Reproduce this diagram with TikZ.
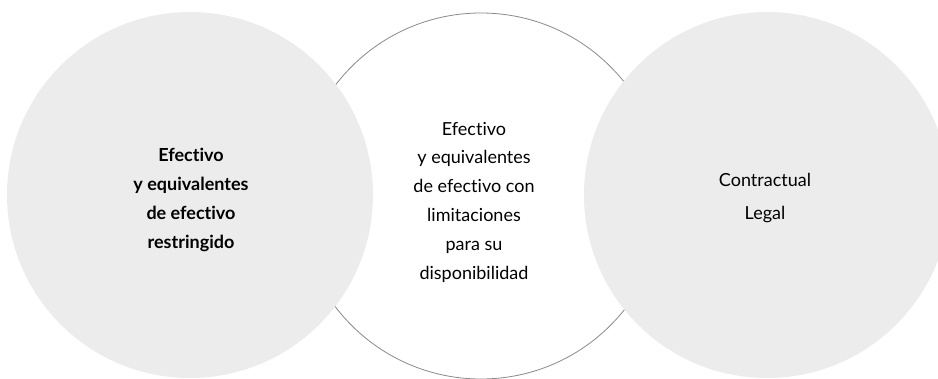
\documentclass[tikz,border=0pt]{standalone}
\usepackage{fontspec}
\setmainfont[Ligatures=NoCommon]{Lato}
\usetikzlibrary{positioning}
\definecolor{discgray}{HTML}{ECECEC}
\definecolor{rimgray}{HTML}{8A8A8A}
\tikzset{
  disc/.style={circle, fill=discgray, minimum size=366pt, inner sep=0pt},
  ring/.style={circle, draw=rimgray, line width=0.8pt, fill=white, minimum size=366pt, inner sep=0pt},
  lbl/.style={align=center, inner sep=0pt, font=\fontsize{18}{28.8}\selectfont},
  blbl/.style={lbl, font=\fontsize{18}{28.8}\selectfont\bfseries}
}

\begin{document}
\begin{tikzpicture}[x=1pt, y=1pt]
		\useasboundingbox (0,0) rectangle (938,378);
		\clip (0,0) rectangle (938,378);
		\node[ring] (mid) at (481,182) {};
		\node[disc] (lft) at (190,183) {};
		\node[disc] (rgt) at (767,183) {};
		\node[blbl] (tl) at (191,178) {Efectivo\\y equivalentes\\de efectivo\\restringido};
		\node[lbl] (tm) at (474,176) {Efectivo\\y equivalentes\\de efectivo con\\limitaciones\\para su\\disponibilidad};
		\node[lbl, font=\fontsize{18}{33}\selectfont] (tr) at (765,180) {Contractual\\Legal};
	\end{tikzpicture}
\end{document}
